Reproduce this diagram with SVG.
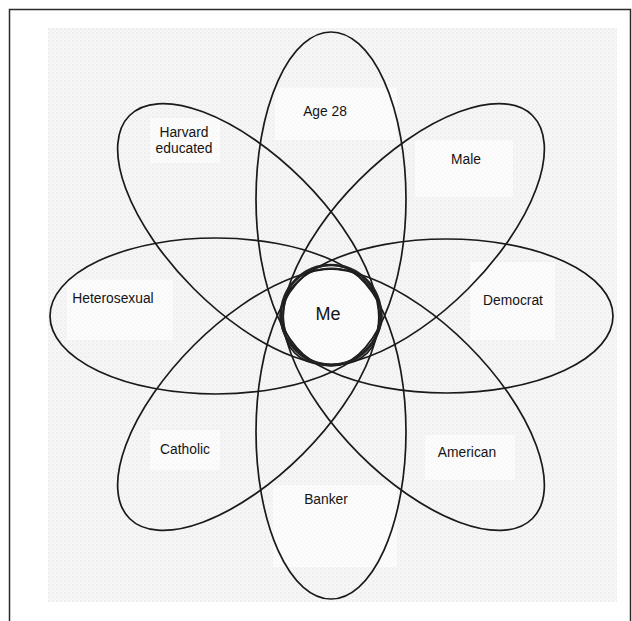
<svg xmlns="http://www.w3.org/2000/svg" width="632" height="621" viewBox="0 0 632 621">
  <defs>
    <pattern id="dots" width="4" height="4" patternUnits="userSpaceOnUse">
      <rect width="4" height="4" fill="#f7f7f7"/>
      <circle cx="1" cy="1" r="0.7" fill="#e0e0e0"/>
      <circle cx="3" cy="3" r="0.6" fill="#e6e6e6"/>
    </pattern>
    <style>
      .petal { fill: none; stroke: #1a1a1a; stroke-width: 1.7; }
      .ring { fill: none; stroke: #222; }
      .lbl { font-family: "Liberation Sans", Arial, sans-serif; font-size: 13.8px; fill: #141414; text-anchor: middle; }
      .me { font-family: "Liberation Sans", Arial, sans-serif; font-size: 18px; fill: #141414; text-anchor: middle; }
      .patch { fill: #ffffff; opacity: 0.6; }
    </style>
  </defs>

  <rect x="0" y="0" width="632" height="621" fill="#ffffff"/>
  <rect x="48" y="28" width="569" height="574" fill="url(#dots)"/>
  <rect x="9.5" y="9.5" width="621" height="700" fill="none" stroke="#2a2a2a" stroke-width="1.5"/>

  <g id="patches">
    <rect class="patch" x="275" y="88" width="122" height="52"/>
    <rect class="patch" x="150" y="118" width="70" height="45"/>
    <rect class="patch" x="415" y="140" width="98" height="57"/>
    <rect class="patch" x="67" y="280" width="106" height="60"/>
    <rect class="patch" x="470" y="262" width="85" height="78"/>
    <rect class="patch" x="150" y="430" width="70" height="40"/>
    <rect class="patch" x="425" y="435" width="90" height="45"/>
    <rect class="patch" x="273" y="485" width="124" height="82"/>
    <circle class="patch" cx="331" cy="316" r="48"/>
  </g>

  <g id="connectors"></g>

  <g id="node-age28">
    <ellipse class="petal" cx="331" cy="199" rx="75" ry="167"/>
    <text class="lbl" x="325" y="116">Age 28</text>
  </g>
  <g id="node-banker">
    <ellipse class="petal" cx="331" cy="432" rx="75" ry="167"/>
    <text class="lbl" x="326" y="504">Banker</text>
  </g>
  <g id="node-heterosexual">
    <ellipse class="petal" cx="216" cy="316" rx="166" ry="78"/>
    <text class="lbl" x="113" y="303">Heterosexual</text>
  </g>
  <g id="node-democrat">
    <ellipse class="petal" cx="446.5" cy="316" rx="166.5" ry="77"/>
    <text class="lbl" x="513" y="305">Democrat</text>
  </g>
  <g id="node-harvard">
    <ellipse class="petal" cx="248.3" cy="234.3" rx="168" ry="77" transform="rotate(45 248.3 234.3)"/>
    <text class="lbl" x="184" y="137">Harvard</text>
    <text class="lbl" x="184" y="153">educated</text>
  </g>
  <g id="node-male">
    <ellipse class="petal" cx="413.7" cy="234.3" rx="168" ry="77" transform="rotate(-45 413.7 234.3)"/>
    <text class="lbl" x="466" y="164">Male</text>
  </g>
  <g id="node-catholic">
    <ellipse class="petal" cx="248.3" cy="399.7" rx="168" ry="77" transform="rotate(-45 248.3 399.7)"/>
    <text class="lbl" x="185" y="454">Catholic</text>
  </g>
  <g id="node-american">
    <ellipse class="petal" cx="413.7" cy="399.7" rx="168" ry="77" transform="rotate(45 413.7 399.7)"/>
    <text class="lbl" x="467" y="457">American</text>
  </g>

  <g id="node-me">
    <circle class="ring" cx="331" cy="315" r="50" stroke-width="2.4"/>
    <circle class="ring" cx="331.5" cy="316" r="48" stroke-width="1.1"/>
    <text class="me" x="328" y="320">Me</text>
  </g>
</svg>
